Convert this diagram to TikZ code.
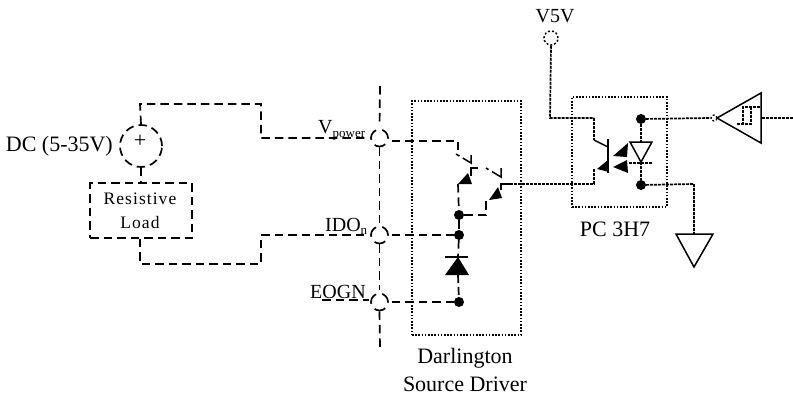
\documentclass[tikz,border=0pt]{standalone}
\usepackage{fontspec}
\setmainfont{Liberation Serif}
\begin{document}
\begin{tikzpicture}[x=1pt,y=-1pt,
  wire/.style={line width=1.7pt,dash pattern=on 8.5pt off 5pt},
  fine/.style={line width=1.7pt,dash pattern=on 3pt off 1pt},
  solidw/.style={line width=1.5pt},
  boxd/.style={line width=1.5pt,dash pattern=on 1.6pt off 1.6pt},
  pin/.style={circle,draw,line width=1.7pt,dash pattern=on 11.5pt off 6.3pt,dash phase=1pt,minimum size=17pt,inner sep=0pt},
  dotn/.style={circle,fill=black,minimum size=10pt,inner sep=0pt},
  lab/.style={font=\fontsize{20}{20}\selectfont,inner sep=0pt},
  big/.style={font=\fontsize{22}{22}\selectfont,inner sep=0pt},
  loadt/.style={font=\fontsize{17.5}{17.5}\selectfont\addfontfeatures{LetterSpace=6},inner sep=0pt},
  arrowh/.style={fill=black,draw=none}]
\useasboundingbox (0,0) rectangle (793,396);
% left source and load
\node[circle,draw,line width=1.7pt,dash pattern=on 8.5pt off 5pt,minimum size=42pt,inner sep=0pt] (src) at (141,146) {};
\node[font=\fontsize{22}{22}\selectfont,inner sep=0pt] (plus) at (140,141) {+};
\node[big,anchor=east] (dc) at (113,146) {DC (5-35V)};
\node[draw,line width=1.7pt,dash pattern=on 8.5pt off 5pt,minimum width=102pt,minimum height=55pt,inner sep=0pt] (load) at (141,210.5) {};
\node[loadt] (res) at (140,199) {Resistive};
\node[loadt] (ld) at (140,223) {Load};
% bus
\coordinate (busT) at (380,86);
\coordinate (busB) at (380,348);
\node[pin] (p1) at (379.5,138) {};
\node[pin] (p2) at (379.5,235) {};
\node[pin] (p3) at (379.5,302) {};
\draw[wire,shorten >=3pt] (busT) -- (p1.north);
\draw[wire,shorten >=3pt] (p1.south) -- (p2.north);
\draw[wire,shorten >=3pt] (p2.south) -- (p3.north);
\draw[wire] (p3.south) -- (busB);
\coordinate (w1) at (140,104); \coordinate (w2) at (261,104); \coordinate (w3) at (261,138);
\draw[wire,shorten >=3pt] (src.north) -- (w1) -- (w2) -- (w3) -- (p1.west);
\coordinate (w4) at (140,264); \coordinate (w5) at (261,264); \coordinate (w6) at (261,235);
\draw[wire,shorten >=3pt] (load.south -| w4) -- (w4) -- (w5) -- (w6) -- (p2.west);
\draw[wire] (src.south) -- (load.north);
\coordinate (e0) at (322,300); \coordinate (e1) at (369,300);
\draw[wire] (e0) -- (e1);
% labels
\node[lab,anchor=base west] (vp) at (318,133) {V\raisebox{-4pt}{\fontsize{13}{13}\selectfont power}};
\node[lab,anchor=base west] (ido) at (325,231) {IDO\raisebox{-3pt}{\fontsize{13}{13}\selectfont n}};
\node[lab,anchor=base west] (eo) at (310,298) {EOGN};
% driver
\node[draw,boxd,minimum width=109pt,minimum height=234pt,inner sep=0pt] (drv) at (466.5,218) {};
\node[big] (dl) at (465,358) {Darlington};
\node[big] (ds) at (465,384) {Source Driver};
\node[dotn] (d1) at (459,215) {};
\node[dotn] (d2) at (459,235) {};
\node[dotn] (d3) at (459,302) {};
\coordinate (t0) at (458,141); \coordinate (t1) at (458,150);
\coordinate (t2) at (471,163); \coordinate (t3) at (471,155);
\coordinate (t4) at (458,184);
\coordinate (t6) at (471,168);
\coordinate (t7) at (501,177); \coordinate (t8) at (501,168);
\coordinate (t9) at (486,200);
\coordinate (t10) at (501,184);
\draw[wire,shorten <=3pt] (p1.east |- t0) -- (t0) -- (t1);
\draw[solidw,dash pattern=on 4pt off 4pt on 20pt] (456,154) -- (t2) -- (t3);
\draw[solidw] (478,168) -- (t6) -- (471,176);
\draw[solidw,dash pattern=on 3pt off 4pt on 20pt] (486,168) -- (t7) -- (t8);
\draw[wire] (t4) -- (d1);
\draw[wire] (d1) -- (d2);
\draw[wire] (d1) -- (486,215) -- (t9);
\draw[arrowh] (468,173) -- (458,184) -- (472,184) -- cycle;
\draw[arrowh] (498,187) -- (489,200) -- (502,198) -- cycle;
\draw[solidw] (501,190) -- (t10) -- (510,184);
\draw[wire,shorten <=3pt] (p2.east) -- (d2);
\draw[wire,shorten <=3pt] (p3.east) -- (d3);
% diode
\coordinate (da) at (458,257);
\draw[arrowh] (da) -- (445,275) -- (469,275) -- cycle;
\draw[solidw] (445,257) -- (468,257);
\draw[wire] (d2) -- (da);
\draw[wire,dash pattern=on 8pt off 4pt] (458,275) -- (d3);
% optocoupler
\node[draw,boxd,minimum width=95pt,minimum height=110pt,inner sep=0pt] (opto) at (619.5,152) {};
\node[big] (pc) at (615,229.5) {PC 3H7};
\node[lab] (v5) at (555,16) {V5V};
\node[circle,draw,line width=1.5pt,dash pattern=on 2pt off 2pt,minimum size=14pt,inner sep=0pt] (vc) at (551,38) {};
\coordinate (o1) at (550,118); \coordinate (o2) at (594,118); \coordinate (o3) at (594,140);
\coordinate (o4) at (608,147); \coordinate (o5) at (594,169); \coordinate (o6) at (594,184);
\draw[fine] (vc.south) -- (o1) -- (o2);
\draw[fine] (o2) -- (o3);
\draw[solidw] (o3) -- (o4);
\draw[solidw] (608,139) -- (608,173);
\draw[arrowh] (608,160) -- (597,169) -- (609,172) -- cycle;
\draw[fine] (o5) -- (o6) -- (t10);
\node[dotn] (o7) at (641,119) {};
\node[dotn] (o8) at (641,185) {};
\draw[fine] (o7) -- (641,142);
\draw[solidw] (630,142) -- (652,142) -- (641,162) -- cycle;
\draw[fine] (629,163) -- (653,163);
\draw[fine] (641,162) -- (o8);
\draw[arrowh] (628,143) -- (613,156) -- (627,157) -- cycle;
\draw[arrowh] (613,167) -- (627,160) -- (628,173) -- cycle;
% buffer
\node[circle,draw,line width=1.2pt,dash pattern=on 2pt off 2pt,minimum size=6pt,inner sep=0pt] (bc) at (714,118) {};
\draw[fine] (o7) -- (bc.west);
\coordinate (ba) at (717,118); \coordinate (bt) at (761,93); \coordinate (bb) at (761,143);
\draw[solidw] (ba) -- (bt) -- (bb) -- cycle;
\coordinate (bo) at (793,118);
\draw[fine] (762,118) -- (bo);
\draw[fine] (760,107) -- (743,107) -- (743,124);
\draw[fine] (751,107) -- (751,124) -- (736,124);
% ground
\coordinate (g0) at (694,184); \coordinate (g1) at (694,234);
\draw[fine] (o8) -- (g0) -- (g1);
\draw[solidw] (676,234) -- (713,234) -- (694,267) -- cycle;
\end{tikzpicture}
\end{document}
